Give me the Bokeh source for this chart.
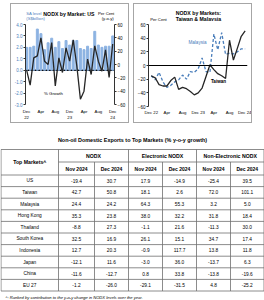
from bokeh.plotting import figure
from bokeh.models import Range1d, LinearAxis, Label, Span, FixedTicker, Spacer
from bokeh.layouts import column, row
from bokeh.embed import file_html
from bokeh.resources import INLINE
from bokeh.core.properties import value

FONT = "Liberation Sans"

# ---------------- data ----------------
months = list(range(25))  # Dec 22 .. Dec 24
tick_pos = [0, 4, 8, 12, 16, 20, 24]
tick_labels_us = ["Dec\n22", "Apr", "Aug", "Dec\n23", "Apr", "Aug", "Dec\n24"]
tick_labels_tm = ["Dec 22", "Apr", "Aug", "Dec 23", "Apr", "Aug", "Dec 24"]

us_level = [2.0, 2.0, 2.1, 3.6, 3.2, 1.8, 2.4, 2.8, 2.0, 2.5, 1.9, 2.6, 2.2,
            2.6, 2.6, 1.9, 1.8, 2.1, 1.9, 3.4, 2.2, 2.0, 2.1, 2.1, 3.0]
us_growth = [-8, -31, 10, 13, 40, 5, 0, 33, -32, 10, -12, 25, 5,
             37, -2, -52, -40, 8, -15, 28, 5, -10, 22, -19.4, 30.7]
taiwan = [-15, -18, -28, -30, -30, -22, -17, -35, -32, -34, -38, -43, -40,
          -33, -16, 1, -6, -12, -15, -19, 37, 8, 25, 42.7, 50.8]
malaysia = [-15, -21, -10, -24, -32, -29, -24, -21, -14, -20, -9, -10, -5,
            11, -9, -10, 46, 23, 48, 16, 18, 17, 20, 24.4, 24.2]

markets = ["US", "Taiwan", "Malaysia", "Hong Kong", "Thailand", "South Korea",
           "Indonesia", "Japan", "China", "EU 27"]
nodx_nov = [-19.4, 42.7, 24.4, 35.3, -8.8, 32.5, 12.7, -12.1, -11.6, -1.2]
nodx_dec = [30.7, 50.8, 24.2, 23.8, 27.3, 16.9, 20.3, 11.6, -12.7, -26.0]
elec_nov = [17.9, 18.1, 64.3, 38.0, -1.1, 26.1, -0.9, -3.0, 0.8, -29.1]
elec_dec = [-14.9, 2.6, 55.3, 32.2, 21.6, 15.1, 117.7, 36.0, 33.8, -31.5]
nonelec_nov = [-25.4, 72.0, 3.2, 31.8, -11.3, 34.7, 13.8, -13.7, -13.8, 4.8]
nonelec_dec = [39.5, 101.1, 5.0, 18.4, 30.0, 17.4, 11.8, 6.3, -19.6, -25.2]
groups = ["NODX", "Electronic NODX", "Non-Electronic NODX"]
periods = ["Nov 2024", "Dec 2024"]

BLUE_TXT = "#4f81bd"
BAR = "#8db3e2"
DARK = "#262626"
BORDER = "#a6a6a6"
tf = value(FONT)


def lab(p, x, y, text, size="4.5px", color="black", align="left", style="normal"):
    p.add_layout(Label(x=x, y=y, x_units="canvas", y_units="canvas", text=text,
                       text_font=FONT, text_font_size=size, text_color=color,
                       text_align=align, text_baseline="middle", text_font_style=style))


def header(w, h):
    f = figure(width=w, height=h, x_range=Range1d(0, w), y_range=Range1d(h, 0),
               output_backend="svg", toolbar_location=None, x_axis_type=None,
               y_axis_type=None, min_border=0)
    f.grid.visible = False
    f.outline_line_color = None
    return f


def htext(f, x, y, text, size="4.2px", color="black", align="left", style="normal"):
    f.text(x=[x], y=[y], text=[text], text_font=tf, text_font_size=size,
           text_color=color, text_align=align, text_baseline="middle",
           text_font_style=style)


def style_axis(ax, size="4.5px", color="black"):
    ax.major_label_text_font = FONT
    ax.major_label_text_font_size = size
    ax.major_label_text_color = color
    ax.minor_tick_line_color = None
    ax.major_tick_out = 2
    ax.major_tick_in = 0
    ax.major_label_standoff = 1
    ax.axis_line_color = "#333333"
    ax.major_tick_line_color = "#333333"


# ---------------- left chart: US ----------------
CW, HH, CH = 117, 17, 101
h1 = header(CW, HH)
htext(h1, 57, 9, "NODX by Market: US", size="5.2px", style="bold", align="center")
htext(h1, 1, 9, "SA level", color=BLUE_TXT)
htext(h1, 1, 14, "(S$billion)", color=BLUE_TXT)
htext(h1, 117, 9, "Per Cent", align="right")
htext(h1, 116, 14, "(y-o-y)", align="right")

p1 = figure(width=CW, height=CH, x_range=Range1d(-0.3, 24.5), y_range=Range1d(-3, 4),
            output_backend="svg", toolbar_location=None,
            min_border_left=11, min_border_right=10, min_border_top=3, min_border_bottom=15)
p1.extra_y_ranges = {"pct": Range1d(-60, 60)}
p1.grid.visible = False
p1.outline_line_color = None

p1.add_layout(Span(location=0, dimension="width", line_color="black", line_width=1.4,
                   level="underlay"))
p1.vbar(x=months, top=us_level, bottom=0, width=0.55, color=BAR)
p1.line(x=months, y=us_growth, y_range_name="pct", line_color=DARK, line_width=1.3)

ya = p1.yaxis[0]
ya.ticker = FixedTicker(ticks=[-3, -2, -1, 0, 1, 2, 3, 4])
ya.major_label_overrides = {v: f"{v:.1f}" for v in [-3, -2, -1, 0, 1, 2, 3, 4]}
style_axis(ya, color=BLUE_TXT)

ra = LinearAxis(y_range_name="pct", ticker=FixedTicker(ticks=[-60, -40, -20, 0, 20, 40, 60]))
style_axis(ra)
p1.add_layout(ra, "right")

xa = p1.xaxis[0]
xa.ticker = FixedTicker(ticks=tick_pos)
xa.major_label_overrides = dict(zip(tick_pos, tick_labels_us))
style_axis(xa, size="4.3px")
xa.axis_line_color = None
xa.major_tick_line_color = None
xa.major_label_standoff = 2

lab(p1, 42, 72, "% Growth", size="4.3px", align="center")

panel1 = column(h1, p1, styles={"border": f"1px solid {BORDER}"})

# ---------------- right chart: Taiwan & Malaysia ----------------
h2 = header(CW, HH)
htext(h2, 59, 8, "NODX by Markets:", size="5.2px", style="bold", align="center")
htext(h2, 59, 14, "Taiwan & Malaysia", size="5.2px", style="bold", align="center")
htext(h2, 2, 15, "Per Cent")

p2 = figure(width=CW, height=CH, x_range=Range1d(-0.7, 24.6), y_range=Range1d(-60, 60),
            output_backend="svg", toolbar_location=None,
            min_border_left=8, min_border_right=4, min_border_top=3, min_border_bottom=16)
p2.grid.visible = False
p2.outline_line_color = None

p2.add_layout(Span(location=0, dimension="width", line_color="black", line_width=1))
p2.line(x=months, y=malaysia, line_color="#4a7ebb", line_width=1.3, line_dash="3 2")
p2.line(x=months, y=taiwan, line_color=DARK, line_width=1.3)

ya2 = p2.yaxis[0]
ya2.ticker = FixedTicker(ticks=[-60, -40, -20, 0, 20, 40, 60])
style_axis(ya2)
xa2 = p2.xaxis[0]
xa2.ticker = FixedTicker(ticks=tick_pos)
xa2.major_label_overrides = dict(zip(tick_pos, tick_labels_tm))
style_axis(xa2, size="4.3px")
xa2.axis_line_color = None
xa2.major_tick_line_color = None
xa2.major_label_standoff = 1

lab(p2, 63, 21, "Malaysia", size="4.6px", color="#4a7ebb", align="center")
lab(p2, 84, 60, "Taiwan", size="4.6px", style="bold", align="center")

panel2 = column(h2, p2, styles={"border": f"1px solid {BORDER}"})

# ---------------- table ----------------
T_TOP = 123
p3 = figure(width=264, height=177, x_range=Range1d(0, 264), y_range=Range1d(300, T_TOP),
            output_backend="svg", toolbar_location=None, x_axis_type=None, y_axis_type=None,
            min_border=0)
p3.grid.visible = False
p3.outline_line_color = None

top, mid, hdr, bottom = 149, 161.5, 174.5, 290.5
col_edges = [0.5, 58, 94, 128, 162, 196, 230, 263.5]
n = len(markets)
row_h = (bottom - hdr) / n

# horizontal lines
hx0 = [col_edges[0], col_edges[1], col_edges[0]] + [col_edges[0]] * n
hx1 = [col_edges[-1]] * (3 + n)
hy = [top, mid, hdr] + [hdr + row_h * (i + 1) for i in range(n)]
p3.segment(x0=hx0, y0=hy, x1=hx1, y1=hy, line_color="#6f6f6f", line_width=0.8)
# vertical lines
vx = col_edges
vy0 = [top, top, mid, top, mid, top, mid, top]
p3.segment(x0=vx, y0=vy0, x1=vx, y1=[bottom] * len(vx), line_color="#6f6f6f", line_width=0.8)

p3.text(x=[132], y=[139], text=["Non-oil Domestic Exports to Top Markets (% y-o-y growth)"],
        text_font=tf, text_font_size="5.4px", text_font_style="bold",
        text_align="center", text_baseline="middle")
p3.text(x=[(col_edges[0] + col_edges[1]) / 2], y=[(top + hdr) / 2], text=["Top Markets^"],
        text_font=tf, text_font_size="5.2px", text_font_style="bold",
        text_align="center", text_baseline="middle")
gx = [(col_edges[1] + col_edges[3]) / 2, (col_edges[3] + col_edges[5]) / 2,
      (col_edges[5] + col_edges[7]) / 2]
p3.text(x=gx, y=[(top + mid) / 2] * 3, text=groups, text_font=tf, text_font_size="5.2px",
        text_font_style="bold", text_align="center", text_baseline="middle")
cx = [(col_edges[i] + col_edges[i + 1]) / 2 for i in range(1, 7)]
p3.text(x=cx, y=[(mid + hdr) / 2] * 6, text=periods * 3, text_font=tf,
        text_font_size="5.0px", text_font_style="bold", text_align="center",
        text_baseline="middle")

ry = [hdr + row_h * (i + 0.5) for i in range(n)]
p3.text(x=[(col_edges[0] + col_edges[1]) / 2] * n, y=ry, text=markets, text_font=tf,
        text_font_size="4.8px", text_align="center", text_baseline="middle")
cols = [nodx_nov, nodx_dec, elec_nov, elec_dec, nonelec_nov, nonelec_dec]
for c, vals in zip(cx, cols):
    p3.text(x=[c] * n, y=ry, text=[f"{v:.1f}" for v in vals], text_font=tf,
            text_font_size="4.8px", text_align="center", text_baseline="middle")

p3.text(x=[5], y=[297], text=["^: Ranked by contribution to the y-o-y change in NODX levels over the year."],
        text_font=tf, text_font_size="4.1px", text_font_style="italic",
        text_align="left", text_baseline="middle")

layout = column(Spacer(height=3),
                row(Spacer(width=10), panel1, Spacer(width=4), panel2),
                p3)

open("out.html", "w").write(file_html(layout, INLINE))
